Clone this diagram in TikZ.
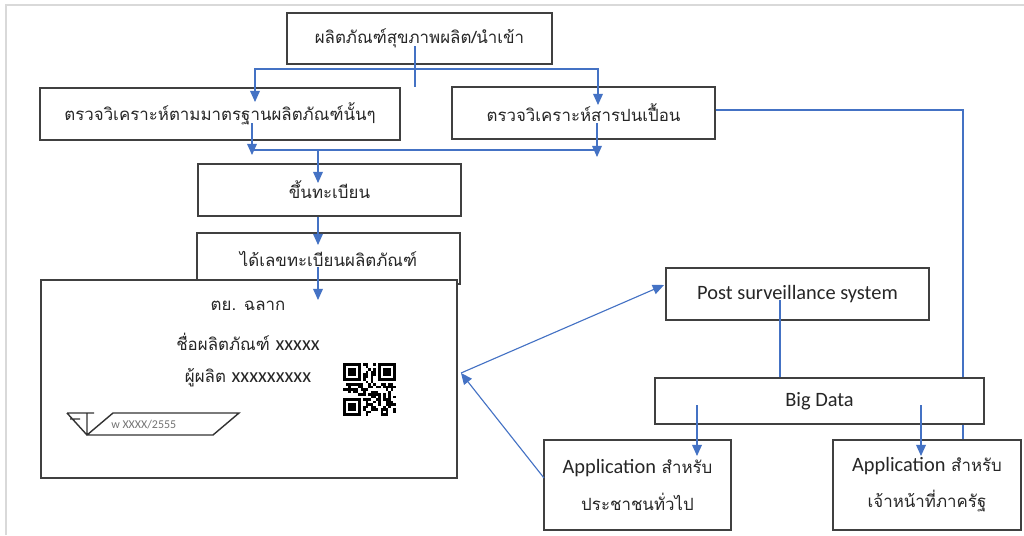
\documentclass[tikz,border=0pt]{standalone}
\usepackage{fontspec}
\setmainfont{Carlito}
\newfontfamily\thai[Script=Thai]{Loma}
\usetikzlibrary{arrows.meta}
\definecolor{linkblue}{HTML}{4472C4}
\definecolor{boxgray}{HTML}{404040}
\newcommand\lat[1]{{\normalfont\fontsize{14.5}{16}\selectfont #1}}

\begin{document}
\begin{tikzpicture}[x=0.025cm,y=-0.025cm,
  >={Triangle[length=8pt,width=7pt]},
  box/.style={draw=boxgray,line width=0.8pt,fill=white,inner sep=0pt,
    text=black!85,font=\thai\fontsize{12}{14}\selectfont},
  lbl/.style={inner sep=0pt,text=black!85,font=\thai\fontsize{12}{14}\selectfont},
  flow/.style={draw=linkblue,line width=0.8pt}]

\useasboundingbox (0,0) rectangle (1024,535);
\draw[black!15,line width=2pt] (6,535) -- (6,5) -- (1024,5);

\node[box,minimum width=6.625cm,minimum height=1.275cm] (top) at (419.5,38.5) {ผลิตภัณฑ์สุขภาพผลิต/นำเข้า};
\node[box,minimum width=9cm,minimum height=1.3cm] (std) at (220,114) {ตรวจวิเคราะห์ตามมาตรฐานผลิตภัณฑ์นั้นๆ};
\node[box,minimum width=6.575cm,minimum height=1.3cm] (cont) at (583.5,113) {ตรวจวิเคราะห์สารปนเปื้อน};
\node[box,minimum width=6.575cm,minimum height=1.3cm] (reg) at (329.5,190) {ขึ้นทะเบียน};
\node[box,minimum width=6.575cm,minimum height=1.275cm] (num) at (328.5,258.5) {ได้เลขทะเบียนผลิตภัณฑ์};
\node[box,minimum width=10.4cm,minimum height=4.95cm] (label) at (249,379) {};
\node[box,minimum width=6.575cm,minimum height=1.3cm] (post) at (797.5,294) {\lat{Post surveillance system}};
\node[box,minimum width=8.225cm,minimum height=1.15cm] (big) at (819.5,401) {\lat{Big Data}};
\node[box,align=center,minimum width=4.675cm,minimum height=2.25cm] (appA) at (637.5,485) {\lat{Application} สำหรับ\\[10pt]ประชาชนทั่วไป};
\node[box,align=center,minimum width=4.7cm,minimum height=2.25cm] (appB) at (927,485) {\lat{Application} สำหรับ\\[10pt]เจ้าหน้าที่ภาครัฐ};

\node[lbl] (lblT) at (248,306) {ตย. ฉลาก};
\node[lbl] (lblN) at (248,342) {ชื่อผลิตภัณฑ์ \lat{xxxxx}};
\node[lbl] (lblM) at (248,378) {ผู้ผลิต \lat{xxxxxxxxx}};

\draw[black!80,line width=1pt] (67,413) -- (94,413) (70,419) -- (80,419) (87,413) -- (87,435)
  (67,413) -- (87,435) -- (113,413) -- (239,413) -- (213,435) -- (87,435);
\node[anchor=west,inner sep=0pt,text=black!55,font=\fontsize{8.5}{9}\selectfont] (regno) at (111,425) {w XXXX/2555};

\coordinate (qr) at (343,363);
\pgfmathsetseed{17}
\foreach \r in {0,...,20}{
\foreach \c in {0,...,20}{
\pgfmathtruncatemacro\qout{(\r<8)*(\c<8)+(\r<8)*(\c>12)+(\r>12)*(\c<8)}
\pgfmathrandominteger{\qbit}{0}{1}
\ifnum\qout=0 \ifnum\qbit=1 \fill (qr) ++(\c*2.5,\r*2.5) rectangle ++(2.5,2.5); \fi\fi
}}
\foreach \dx/\dy in {0/0,35/0,0/35}{
\fill (qr) ++(\dx,\dy) rectangle ++(17.5,17.5);
\fill[white] (qr) ++(\dx+2.5,\dy+2.5) rectangle ++(12.5,12.5);
\fill (qr) ++(\dx+5,\dy+5) rectangle ++(7.5,7.5);
}

\coordinate (t0) at (415,46);
\coordinate (aL) at (255,102);
\coordinate (hR) at (598,69);
\coordinate (aR) at (598,105);
\draw[flow] (t0) -- (t0 |- std.north);
\draw[flow,<->] (aL) |- (hR) -- (aR);

\coordinate (b1) at (252,123);
\coordinate (b1a) at (252,155);
\coordinate (b2) at (597,123);
\coordinate (b2a) at (597,157);
\coordinate (bm) at (318,150);
\coordinate (bma) at (318,183);
\draw[flow,->] (b1) -- (b1a);
\draw[flow,->] (b2) -- (b2a);
\draw[flow] (b1 |- bm) -- (b2 |- bm);
\draw[flow,->] (bm) -- (bma);

\coordinate (ca) at (318,245);
\coordinate (d0) at (318,267);
\coordinate (da) at (318,300);
\draw[flow,->] (reg.south -| ca) -- (ca);
\draw[flow,->] (d0) -- (da);

\coordinate (rc) at (963,110);
\draw[flow] (cont.east |- rc) -- (rc) -- (rc |- big.north);
\draw[flow] (rc |- big.south) -- (rc |- appB.north);

\coordinate (p0) at (780,300);
\draw[flow] (p0) -- (p0 |- big.north);

\coordinate (g1) at (697,405);
\coordinate (g1a) at (697,456);
\coordinate (g2) at (921,405);
\coordinate (g2a) at (921,456);
\draw[flow,->] (g1) -- (g1a);
\draw[flow,->] (g2) -- (g2a);

\coordinate (lp) at (461,373);
\coordinate (pw) at (664,285);
\coordinate (aw) at (544,478);
\draw[flow,->] (lp) -- (pw);
\draw[flow,->] (aw) -- (lp);
\end{tikzpicture}
\end{document}
